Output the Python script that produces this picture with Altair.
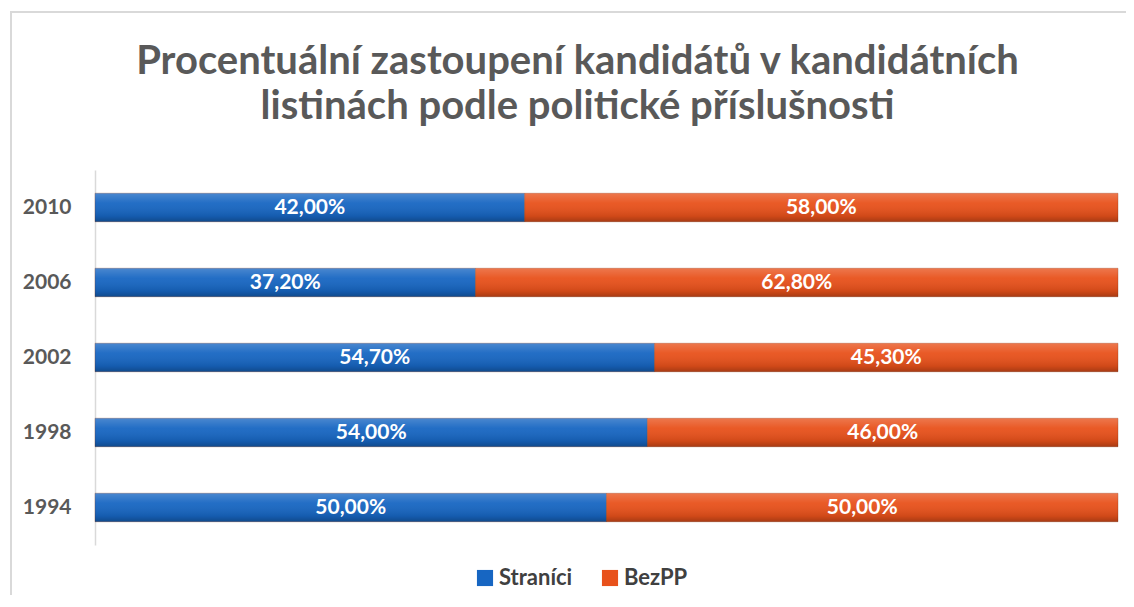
import altair as alt
import pandas as pd

years = ["2010", "2006", "2002", "1998", "1994"]
stranici = [42.0, 37.2, 54.7, 54.0, 50.0]
bezpp = [58.0, 62.8, 45.3, 46.0, 50.0]
series = ["Straníci", "BezPP"]
colors = ["#1766C2", "#E8511B"]

rows = []
for y, a, b in zip(years, stranici, bezpp):
    rows.append({"rok": y, "skupina": series[0], "podil": a, "poradi": 0})
    rows.append({"rok": y, "skupina": series[1], "podil": b, "poradi": 1})
df = pd.DataFrame(rows)
df["popisek"] = df["podil"].map(lambda v: f"{v:.2f}".replace(".", ",") + "%")

FONT = "Lato"
GRAY = "#595959"

base = alt.Chart(df).transform_stack(
    stack="podil", groupby=["rok"], as_=["x0", "x1"], sort=[alt.SortField("poradi")]
).transform_calculate(mid="(datum.x0 + datum.x1) / 2")

yenc = alt.Y("rok:N", sort=years, title=None,
             scale=alt.Scale(paddingInner=0.62, paddingOuter=0.31),
             axis=alt.Axis(labelFont=FONT, labelFontSize=21, labelFontWeight="bold",
                           labelColor=GRAY, ticks=False, domainColor="#D9D9D9",
                           domainWidth=1.5, labelPadding=24))
xscale = alt.Scale(domain=[0, 100], nice=False, zero=True)

bars = base.mark_bar(stroke="#7a2a0a", strokeWidth=0.6, strokeOpacity=0.5).encode(
    x=alt.X("x0:Q", scale=xscale, axis=None),
    x2="x1:Q",
    y=yenc,
    color=alt.Color("skupina:N", sort=series,
                    scale=alt.Scale(domain=series, range=colors),
                    legend=alt.Legend(title=None, orient="none", direction="horizontal",
                                      legendX=379, legendY=397, symbolType="square",
                                      symbolSize=260, symbolStrokeWidth=0,
                                      labelFont=FONT, labelFontSize=22,
                                      labelFontWeight="bold", labelColor="#404040",
                                      columnPadding=26, labelOffset=3)),
)

shade = base.mark_bar(
    fill=alt.Gradient(gradient="linear", x1=0, y1=0, x2=0, y2=1,
                      stops=[alt.GradientStop(color="rgba(255,255,255,0.22)", offset=0),
                             alt.GradientStop(color="rgba(255,255,255,0.05)", offset=0.35),
                             alt.GradientStop(color="rgba(0,0,0,0.10)", offset=0.8),
                             alt.GradientStop(color="rgba(0,0,0,0.28)", offset=1)])
).encode(x=alt.X("x0:Q", scale=xscale, axis=None), x2="x1:Q", y=yenc)

labels = base.mark_text(font=FONT, fontSize=21, fontWeight="bold", color="white").encode(
    x=alt.X("mid:Q", scale=xscale, axis=None),
    y=yenc,
    text="popisek:N",
)

border_top = alt.Chart(pd.DataFrame({"k": [0]})).mark_rule(color="#D9D9D9", strokeWidth=2).encode(
    x=alt.value(-85), x2=alt.value(1100), y=alt.value(-158))
border_left = alt.Chart(pd.DataFrame({"k": [0]})).mark_rule(color="#D9D9D9", strokeWidth=2).encode(
    x=alt.value(-84), y=alt.value(-158), y2=alt.value(600))

chart = alt.layer(border_top, border_left, bars, shade, labels).properties(
    width=1023, height=375,
    title=alt.TitleParams(["Procentuální zastoupení kandidátů v kandidátních",
                           "listinách podle politické příslušnosti"],
                          font=FONT, fontSize=40, fontWeight="bold", color=GRAY,
                          anchor="middle", lineHeight=45, offset=0, dx=-29, dy=116),
    autosize=alt.AutoSizeParams(type="none"),
    padding={"left": 87, "top": 162, "right": 8, "bottom": 50},
).configure_view(stroke=None)

chart.save("out.html", embed_options={"renderer": "svg", "actions": False})
